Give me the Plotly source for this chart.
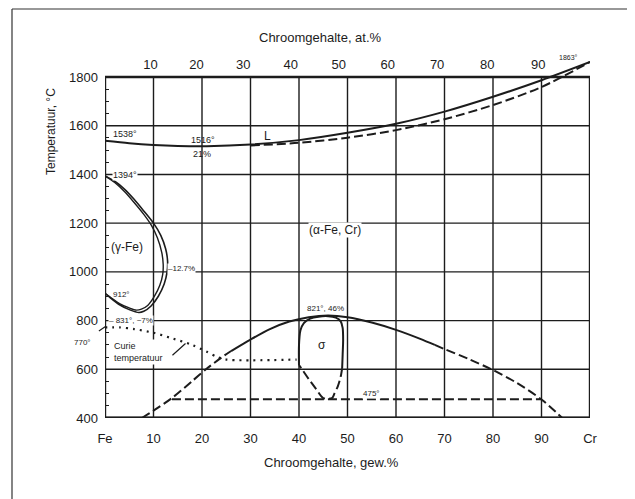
import plotly.graph_objects as go

# ---------------- data (wt.% Cr, temperature in °C) ----------------
liq_wt = [0, 5, 10, 15, 21, 30, 40, 50, 60, 70, 80, 90, 100]
liq_T = [1538, 1528, 1521, 1517, 1516, 1523, 1541, 1571, 1608, 1658, 1719, 1787, 1862]

sol_wt = [30, 40, 50, 60, 70, 80, 90, 100]
sol_T = [1519, 1530, 1551, 1582, 1627, 1685, 1759, 1862]

gam_out_wt = [0, 2, 4, 6, 8, 10, 11.5, 12.5, 12.9, 12.8, 12.2, 11.0, 9.5, 8.0, 7.0, 5.0, 3.0, 1.0, 0]
gam_out_T = [1394, 1372, 1340, 1298, 1250, 1200, 1150, 1095, 1045, 1000, 950, 900, 860, 838, 833, 845, 865, 895, 912]

gam_in_wt = [0, 2, 4, 6, 8, 9.6, 10.8, 11.7, 12.0, 11.9, 11.3, 10.2, 8.8, 7.5, 6.5, 5.0, 3.0, 1.0, 0]
gam_in_T = [1394, 1367, 1330, 1285, 1236, 1190, 1140, 1080, 1030, 990, 945, 900, 862, 847, 843, 852, 870, 898, 912]

curie_wt = [0, 3, 6, 10, 14, 18, 21, 23, 25, 39.5]
curie_T = [772, 772, 765, 750, 726, 700, 672, 652, 640, 640]

dome_left_wt = [7.6, 10, 14, 18, 21, 24, 26]
dome_left_T = [400, 430, 485, 552, 603, 648, 675]
dome_mid_wt = [26, 30, 34, 38, 42, 46, 50, 55, 60, 65, 68]
dome_mid_T = [675, 722, 765, 796, 814, 821, 814, 792, 762, 725, 700]
dome_right_wt = [68, 70, 75, 80, 85, 90, 94.3]
dome_right_T = [700, 683, 642, 597, 543, 476, 400]

sig_solid_wt = [40, 40, 40.3, 41, 42.3, 44, 46, 47.6, 48.6, 49, 49.1, 49, 48.9]
sig_solid_T = [617, 700, 760, 790, 808, 816, 818, 812, 797, 770, 720, 660, 605]
sig_dash_wt = [48.9, 48.6, 48.0, 47.3, 46.8, 45.0, 43.5, 42.0, 40.8, 40]
sig_dash_T = [605, 570, 530, 500, 482, 482, 520, 560, 595, 617]

h475_wt = [13.8, 90]
h475_T = [477, 477]

grid_wt = [10, 20, 30, 40, 50, 60, 70, 80, 90]
grid_T = [600, 800, 1000, 1200, 1400, 1600]

bottom_ticks = [0, 10, 20, 30, 40, 50, 60, 70, 80, 90, 100]
bottom_text = ["Fe", "10", "20", "30", "40", "50", "60", "70", "80", "90", "Cr"]
top_at = [10, 20, 30, 40, 50, 60, 70, 80, 90]
y_ticks = [400, 600, 800, 1000, 1200, 1400, 1600, 1800]

M_CR, M_FE = 52.00, 55.85
top_pos = [a * M_CR / (a * M_CR + (100 - a) * M_FE) * 100 for a in top_at]

INK = "#1c1c1c"
FONT = "Arial, Liberation Sans, sans-serif"

# plot area in window pixels (page body adds an 8px offset)
OFF = 8
PL, PR, PT, PB = 105, 590, 60, 418


def px(x):
    return (x - PL) / (PR - PL)


def py(y):
    return (PB - y) / (PB - PT)


fig = go.Figure()


def add_line(x, y, dash="solid", width=2.0, shape="spline"):
    fig.add_trace(go.Scatter(x=x, y=y, mode="lines",
                             line=dict(color=INK, width=width, dash=dash, shape=shape, smoothing=0.8),
                             hoverinfo="skip", showlegend=False))


DASH = "9px,4px"
add_line(liq_wt, liq_T)
add_line(sol_wt, sol_T, dash=DASH)
add_line(gam_out_wt, gam_out_T, width=1.6)
add_line(gam_in_wt, gam_in_T, width=1.4)
add_line(curie_wt, curie_T, dash="2px,5px", width=2.2)
add_line(dome_left_wt, dome_left_T, dash=DASH)
add_line(dome_mid_wt, dome_mid_T)
add_line(dome_right_wt, dome_right_T, dash=DASH)
add_line(sig_solid_wt, sig_solid_T)
add_line(sig_dash_wt, sig_dash_T, dash=DASH)
add_line(h475_wt, h475_T, dash=DASH, shape="linear")

# overlay axis for atomic-% scale
fig.add_trace(go.Scatter(x=[0, 100], y=[400, 400], xaxis="x2", mode="lines",
                         line=dict(width=0, color="rgba(0,0,0,0)"), hoverinfo="skip", showlegend=False))

shapes = []
for v in grid_wt:
    shapes.append(dict(type="line", xref="x", yref="y", x0=v, x1=v, y0=400, y1=1800,
                       line=dict(color=INK, width=1.4), layer="below"))
for h in grid_T:
    shapes.append(dict(type="line", xref="x", yref="y", x0=0, x1=100, y0=h, y1=h,
                       line=dict(color=INK, width=1.4), layer="below"))
shapes.append(dict(type="rect", xref="x", yref="y", x0=0, x1=100, y0=400, y1=1800,
                   line=dict(color=INK, width=2.4), layer="above"))
shapes.append(dict(type="line", xref="x", yref="y", x0=0, x1=100, y0=400, y1=400,
                   line=dict(color=INK, width=3.2), layer="above"))
# scanned page frame
shapes.append(dict(type="line", xref="paper", yref="paper", x0=px(12), x1=px(12), y0=py(9), y1=py(520),
                   line=dict(color="#333", width=1.2)))
shapes.append(dict(type="line", xref="paper", yref="paper", x0=px(12), x1=px(660), y0=py(9), y1=py(9),
                   line=dict(color="#333", width=1.2)))

ann = []


def label(x, y, text, size=9, xanchor="center", bg=True):
    ann.append(dict(x=x, y=y, xref="x", yref="y", text=text, showarrow=False,
                    font=dict(family=FONT, size=size, color=INK), xanchor=xanchor, yanchor="middle",
                    bgcolor="white" if bg else None, borderpad=0))


label(1.4, 1566, "1538°", xanchor="left")
label(20.2, 1541, "1516°", bg=False)
label(20.0, 1484, "21%", bg=False)
label(1.4, 1398, "1394°", xanchor="left")
label(33.6, 1560, "L", size=12, bg=False)
label(47.4, 1172, "(α-Fe, Cr)", size=12)
label(4.6, 1102, "(γ-Fe)", size=12)
label(12.7, 1012, "–12.7%", size=8, xanchor="left")
label(3.5, 909, "912°", size=8, bg=False)
label(0.6, 802, "– 831°, ~7%", size=8, xanchor="left")
label(45.4, 851, "821°, 46%", size=8, bg=False)
label(44.7, 700, "σ", size=12, bg=False)
label(55.0, 500, "475°", size=8)
ann.append(dict(x=px(568), y=py(58), xref="paper", yref="paper", text="1863°", showarrow=False,
                xanchor="center", yanchor="middle", font=dict(family=FONT, size=7, color=INK)))
ann.append(dict(x=1.5, y=670, xref="x", yref="y", text="Curie<br>temperatuur", showarrow=False,
                align="left", xanchor="left", yanchor="middle",
                font=dict(family=FONT, size=9, color=INK), bgcolor="white"))
ann.append(dict(x=0.1, y=776, xref="x", yref="y", ax=-4.6, ay=712, axref="x", ayref="y",
                text="770°", showarrow=True, arrowhead=0, arrowwidth=1.2, arrowcolor=INK,
                font=dict(family=FONT, size=8, color=INK), standoff=0, startstandoff=9))
ann.append(dict(x=16.6, y=706, xref="x", yref="y", ax=13.6, ay=652, axref="x", ayref="y",
                text="", showarrow=True, arrowhead=0, arrowwidth=1.2, arrowcolor=INK))
# axis titles
ann.append(dict(x=px(331), y=py(462), xref="paper", yref="paper", xanchor="center", yanchor="middle",
                text="Chroomgehalte, gew.%", showarrow=False, font=dict(family=FONT, size=13, color=INK)))
ann.append(dict(x=px(320), y=py(38), xref="paper", yref="paper", xanchor="center", yanchor="middle",
                text="Chroomgehalte, at.%", showarrow=False, font=dict(family=FONT, size=13, color=INK)))
ann.append(dict(x=px(51), y=py(132), xref="paper", yref="paper", xanchor="center", yanchor="middle",
                text="Temperatuur, °C", textangle=-90, showarrow=False,
                font=dict(family=FONT, size=12, color=INK)))

minor_vals = [v for v in range(450, 1800, 50) if v % 200 != 0]

fig.update_layout(
    width=635, height=499,
    margin=dict(l=PL - OFF, r=635 + OFF - PR, t=PT - OFF, b=499 + OFF - PB, autoexpand=False),
    paper_bgcolor="white", plot_bgcolor="white",
    shapes=shapes, annotations=ann,
    xaxis=dict(range=[0, 100], tickmode="array", tickvals=bottom_ticks, ticktext=bottom_text,
               showgrid=False, zeroline=False, showline=False, ticks="",
               ticklabelstandoff=11, tickfont=dict(family=FONT, size=13, color=INK)),
    xaxis2=dict(range=[0, 100], overlaying="x", side="top", anchor="free",
                position=py(77), tickmode="array", tickvals=top_pos,
                ticktext=[str(a) for a in top_at], showgrid=False, zeroline=False,
                showline=False, ticks="", ticklabelstandoff=5,
                tickfont=dict(family=FONT, size=13, color=INK)),
    yaxis=dict(range=[400, 1870], tickmode="array", tickvals=y_ticks, showgrid=False,
               zeroline=False, showline=False, ticks="", ticklabelstandoff=6,
               tickfont=dict(family=FONT, size=13, color=INK),
               minor=dict(tickmode="array", tickvals=minor_vals, ticks="inside",
                          ticklen=4, tickwidth=1, tickcolor=INK)),
)

fig.write_html("out.html")
